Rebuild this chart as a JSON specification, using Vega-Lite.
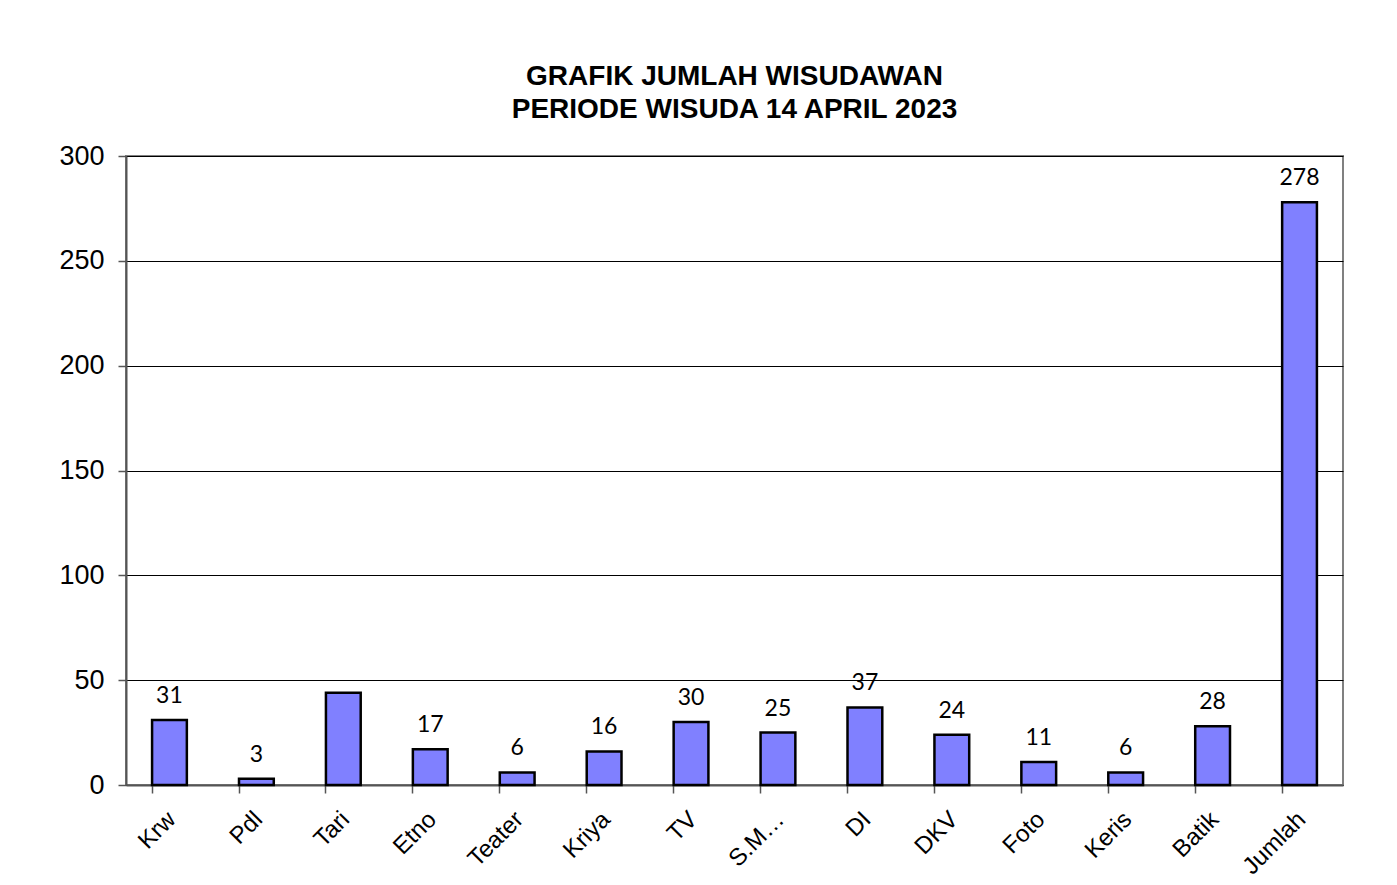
{
  "$schema": "https://vega.github.io/schema/vega-lite/v6.json",
  "width": 1217,
  "height": 629,
  "autosize": {"type": "none"},
  "padding": {"left": 126, "top": 156, "right": 54, "bottom": 100},
  "background": "white",
  "title": {
    "text": ["GRAFIK JUMLAH WISUDAWAN", "PERIODE WISUDA 14 APRIL 2023"],
    "font": "Liberation Sans",
    "fontSize": 28,
    "fontWeight": "bold",
    "color": "black",
    "lineHeight": 33,
    "anchor": "middle",
    "offset": 18
  },
  "config": {
    "view": {"stroke": "#808080", "strokeWidth": 2},
    "axis": {
      "labelFont": "Liberation Sans",
      "labelColor": "black",
      "domainColor": "#555555",
      "domainWidth": 2,
      "tickColor": "#555555",
      "tickWidth": 1.5,
      "tickSize": 8
    }
  },
  "data": {
    "values": [
      {"prodi": "Krw", "jumlah": 31, "show": true},
      {"prodi": "Pdl", "jumlah": 3, "show": true},
      {"prodi": "Tari", "jumlah": 44, "show": false},
      {"prodi": "Etno", "jumlah": 17, "show": true},
      {"prodi": "Teater", "jumlah": 6, "show": true},
      {"prodi": "Kriya", "jumlah": 16, "show": true},
      {"prodi": "TV", "jumlah": 30, "show": true},
      {"prodi": "S.M…", "jumlah": 25, "show": true},
      {"prodi": "DI", "jumlah": 37, "show": true},
      {"prodi": "DKV", "jumlah": 24, "show": true},
      {"prodi": "Foto", "jumlah": 11, "show": true},
      {"prodi": "Keris", "jumlah": 6, "show": true},
      {"prodi": "Batik", "jumlah": 28, "show": true},
      {"prodi": "Jumlah", "jumlah": 278, "show": true}
    ]
  },
  "encoding": {
    "x": {
      "field": "prodi",
      "type": "nominal",
      "sort": null,
      "title": null,
      "scale": {"paddingInner": 0.6, "paddingOuter": 0.3},
      "axis": {"labelAngle": -45, "bandPosition": 0, "labelPadding": 14, "labelOffset": -6, "labelFontSize": 24, "grid": false}
    },
    "y": {
      "field": "jumlah",
      "type": "quantitative",
      "title": null,
      "scale": {"domain": [0, 300], "nice": false},
      "axis": {
        "values": [0, 50, 100, 150, 200, 250, 300],
        "grid": true,
        "gridColor": "black",
        "gridWidth": 1,
        "gridOpacity": 1,
        "labelFontSize": 27,
        "labelPadding": 14
      }
    }
  },
  "layer": [
    {
      "mark": {"type": "bar", "fill": "#8080FF", "stroke": "black", "strokeWidth": 2.5}
    },
    {
      "transform": [{"filter": "datum.show"}],
      "mark": {
        "type": "text",
        "font": "Lato",
        "fontSize": 23,
        "color": "black",
        "baseline": "alphabetic",
        "dy": -17
      },
      "encoding": {"text": {"field": "jumlah", "type": "quantitative"}}
    }
  ]
}
